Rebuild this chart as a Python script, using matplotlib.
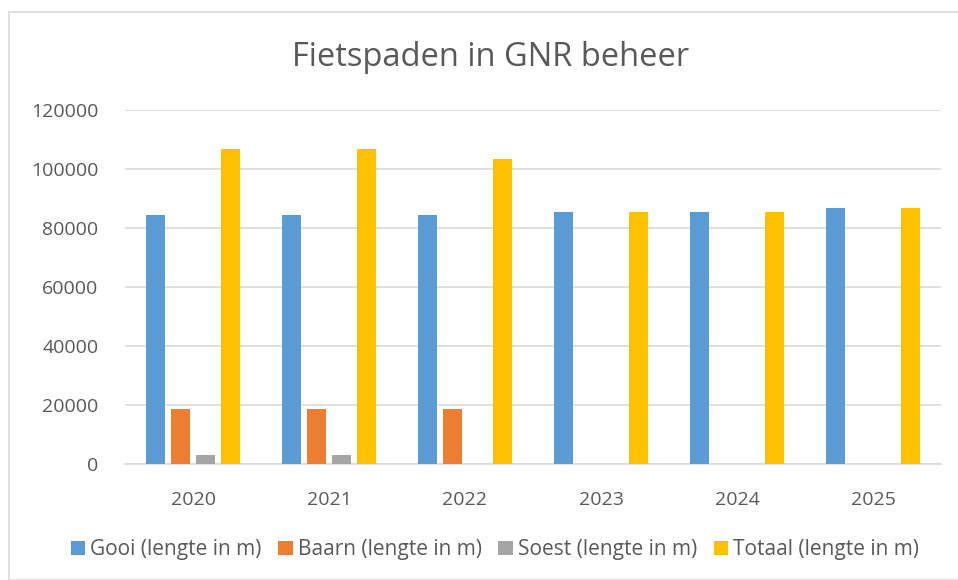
import numpy as np
import matplotlib
matplotlib.use("Agg")
import matplotlib.pyplot as plt
from matplotlib.patches import Rectangle

plt.rcParams['font.family'] = ['Open Sans', 'DejaVu Sans']

years = ["2020", "2021", "2022", "2023", "2024", "2025"]
gooi = [84500, 84500, 84500, 85400, 85400, 86800]
baarn = [18800, 18800, 18800, 0, 0, 0]
soest = [3300, 3300, 0, 0, 0, 0]
totaal = [106700, 106700, 103300, 85400, 85400, 86800]

series = [
    ("Gooi (lengte in m)", gooi, "#5B9BD5"),
    ("Baarn (lengte in m)", baarn, "#ED7D31"),
    ("Soest (lengte in m)", soest, "#A5A5A5"),
    ("Totaal (lengte in m)", totaal, "#FFC000"),
]

txt = "#595959"
grid = "#D9D9D9"

fig = plt.figure(figsize=(9.58, 5.8), dpi=100)
fig.patches.append(Rectangle((9 / 958, 0), 1, 1 - 12 / 580, transform=fig.transFigure,
                             fill=False, edgecolor=grid, linewidth=1.2))
ax = fig.add_axes([125 / 958, 1 - 464.3 / 580, 816 / 958, 354.3 / 580])

x = np.arange(len(years))
step = 0.184
width = 0.143
for i, (name, vals, col) in enumerate(series):
    ax.bar(x + (i - 1.5) * step, vals, width, color=col, label=name, zorder=3)

ax.set_xlim(-0.5, len(years) - 0.5)
ax.set_ylim(0, 120000)
ax.set_yticks(np.arange(0, 120001, 20000))
ax.set_xticks(x)
ax.set_xticklabels(years)
ax.yaxis.grid(True, color=grid, linewidth=1.2, zorder=0)
for s in ["top", "right", "left"]:
    ax.spines[s].set_visible(False)
ax.spines["bottom"].set_color(grid)
ax.spines["bottom"].set_linewidth(1.2)
ax.tick_params(axis="both", length=0, colors=txt, labelsize=14)
ax.tick_params(axis="x", pad=19)
ax.tick_params(axis="y", pad=19)

fig.text(490.5 / 958, 1 - 57 / 580, "Fietspaden in GNR beheer", ha="center", va="center",
         fontsize=23.5, color=txt)

handles, labels = ax.get_legend_handles_labels()
leg = fig.legend(handles, labels, loc="center", bbox_to_anchor=(495 / 958, 1 - 550 / 580),
                 ncol=4, frameon=False, fontsize=15, handlelength=0.68, handleheight=0.68,
                 handletextpad=0.25, columnspacing=0.8, borderpad=0)
for t in leg.get_texts():
    t.set_color(txt)

fig.savefig("out.png", dpi=100)
